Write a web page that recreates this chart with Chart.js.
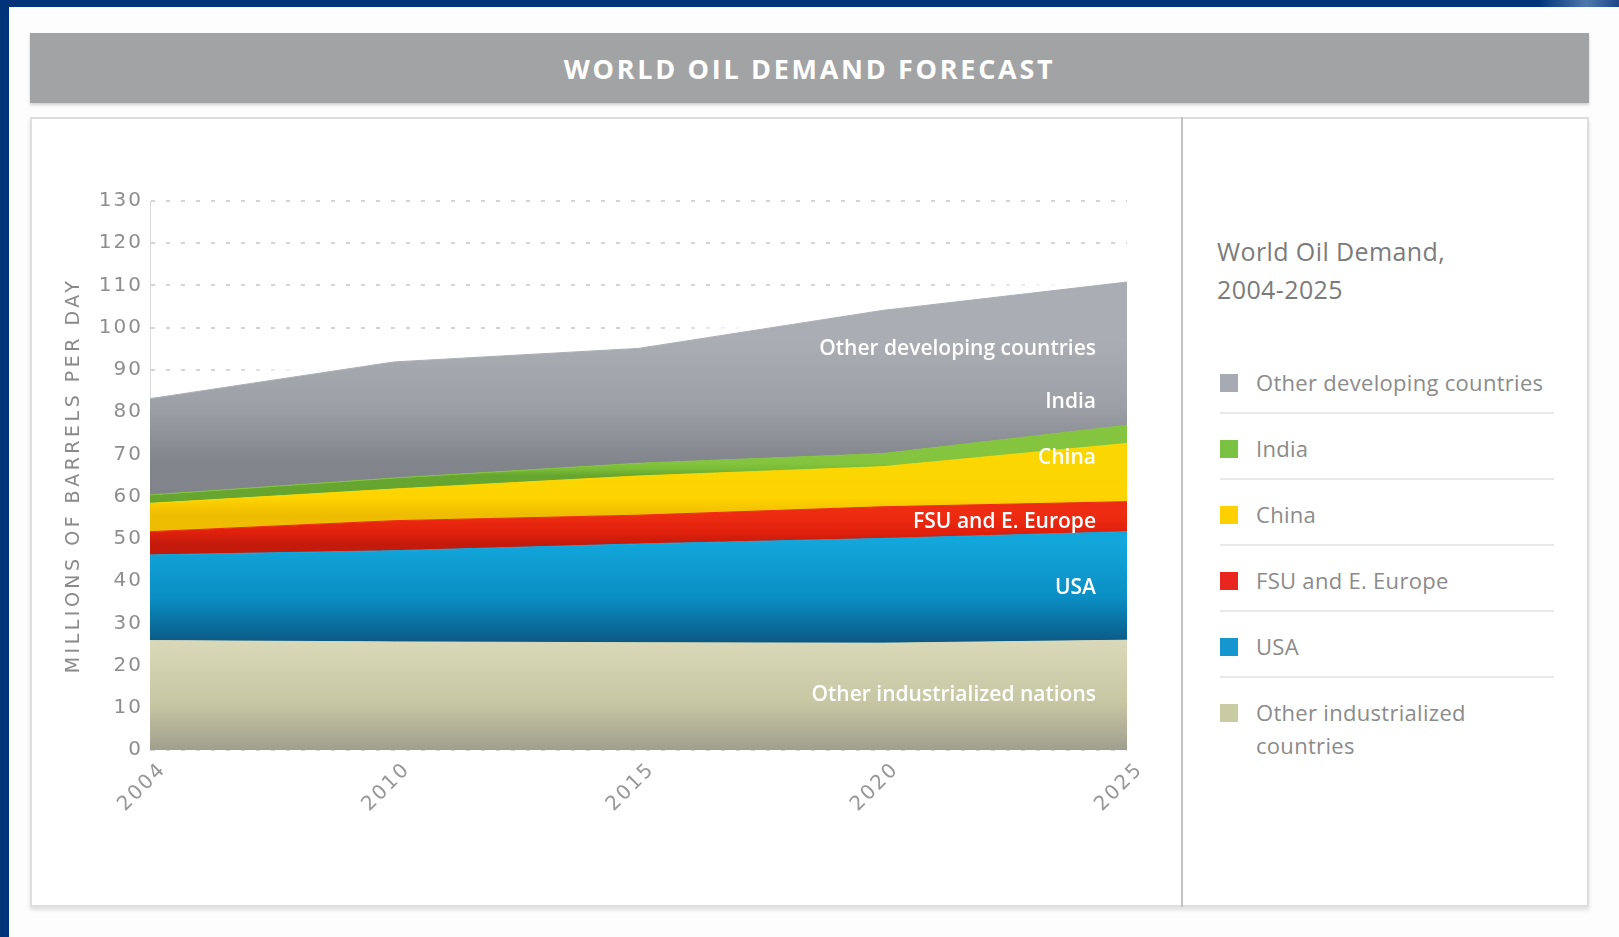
<!DOCTYPE html>
<html>
<head>
<meta charset="utf-8">
<title>World Oil Demand Forecast</title>
<script src="https://cdn.jsdelivr.net/npm/chart.js@4.4.1/dist/chart.umd.min.js"></script>
<style>
  html, body { margin: 0; padding: 0; }
  body { width: 1619px; height: 937px; position: relative; overflow: hidden; background: #fdfdfd; font-family: "Open Sans", sans-serif; }
  #frameTop { position: absolute; left: 0; top: 0; width: 1619px; height: 7px; background: linear-gradient(90deg, #003478 0%, #003478 95%, #4f78ad 98%, #1b4787 100%); }
  #frameLeft { position: absolute; left: 0; top: 0; width: 9px; height: 937px; background: #003478; }
  #titleBar { position: absolute; left: 30px; top: 33px; width: 1559px; height: 70px; background: #a2a3a5; box-shadow: 0 2px 3px rgba(0,0,0,.18);
              color: #fff; font-weight: 700; font-size: 27px; letter-spacing: 2.7px; line-height: 72px; text-align: center; }
  #panel { position: absolute; left: 30px; top: 117px; width: 1555px; height: 786px; border: 2px solid #dedede; background: #fff; box-shadow: 0 3px 4px rgba(0,0,0,.12); }
  #divider { position: absolute; left: 1181px; top: 117px; width: 2px; height: 790px; background: #c2c2c2; }
  #oilChart { position: absolute; left: 0; top: 0; }
  #legendTitle { position: absolute; left: 1217px; top: 232px; font-size: 25px; line-height: 38px; color: #7b7b7b; letter-spacing: 0.4px; }
  #legendItems { position: absolute; left: 1220px; top: 354px; width: 334px; margin: 0; padding: 0; list-style: none; }
  #legendItems li { display: flex; align-items: flex-start; height: 58px; border-bottom: 2px solid #e9e9e9; margin-bottom: 6px; }
  #legendItems li:last-child { border-bottom: none; }
  #legendItems .sw { width: 18px; height: 18px; margin-top: 20px; flex: none; }
  #legendItems .tx { margin-left: 18px; margin-top: 12px; width: 310px; font-size: 22px; line-height: 33px; color: #8b8b8b; letter-spacing: 0.3px; }
</style>
</head>
<body>
<div id="frameTop"></div>
<div id="frameLeft"></div>
<div id="titleBar">WORLD OIL DEMAND FORECAST</div>
<div id="panel"></div>
<div id="divider"></div>
<canvas id="oilChart" width="1180" height="905" style="width:1180px;height:905px"></canvas>
<div id="legendTitle">World Oil Demand,<br>2004-2025</div>
<ul id="legendItems"></ul>
<script>
const years = ['2004', '2010', '2015', '2020', '2025'];
// million barrels per day, listed from the bottom of the stack upwards
const otherIndustrialized = [25.9, 25.6, 25.4, 25.3, 26.0];
const usa = [20.3, 21.6, 23.4, 24.8, 25.7];
const fsuEurope = [5.5, 7.1, 6.8, 7.5, 7.1];
const china = [6.7, 7.5, 9.3, 9.5, 13.8];
const india = [2.0, 2.6, 3.0, 3.1, 4.3];
const otherDeveloping = [22.8, 27.5, 27.2, 33.9, 33.9];
const yMax = 130;
const yStep = 10;

// legend text, label inside the band, colours (top/mid/bottom shade), label nudge in px
const layers = [
  {legend: 'Other industrialized countries', tag: 'Other industrialized nations', data: otherIndustrialized,
   swatch: '#c9cba5', shades: ['#d9d8b8', '#c8c7a4', '#a09f8e'], nudge: 0},
  {legend: 'USA', tag: 'USA', data: usa,
   swatch: '#1696cf', shades: ['#12a6da', '#0a8ec3', '#0b5a86'], nudge: 2},
  {legend: 'FSU and E. Europe', tag: 'FSU and E. Europe', data: fsuEurope,
   swatch: '#e8261f', shades: ['#ee2c12', '#e2210d', '#c41a0c'], nudge: 5},
  {legend: 'China', tag: 'China', data: china,
   swatch: '#ffd000', shades: ['#fbd600', '#ffd400', '#eebc00'], nudge: -15},
  {legend: 'India', tag: 'India', data: india,
   swatch: '#7cc242', shades: ['#84c43e', '#78ba36', '#66a52f'], nudge: -32},
  {legend: 'Other developing countries', tag: 'Other developing countries', data: otherDeveloping,
   swatch: '#a7aab2', shades: ['#abadb4', '#9d9fa6', '#82848c'], nudge: -5}
];

function stackTo(k) {
  return years.map((_, j) => layers.slice(0, k + 1).reduce((a, l) => a + l.data[j], 0));
}
const mean = arr => arr.reduce((a, v) => a + v, 0) / arr.length;

function shade(i) {
  return (c) => {
    const chart = c.chart;
    if (!chart.chartArea) return layers[i].swatch;
    const y = chart.scales.y;
    const g = chart.ctx.createLinearGradient(0, y.getPixelForValue(mean(stackTo(i))), 0, y.getPixelForValue(mean(stackTo(i - 1))));
    const s = layers[i].shades;
    g.addColorStop(0, s[0]);
    g.addColorStop(0.55, s[1]);
    g.addColorStop(1, s[2]);
    return g;
  };
}

const decor = {
  id: 'decor',
  beforeDraw(chart) {
    chart.ctx.letterSpacing = '2px';
  },
  beforeDatasetsDraw(chart) {
    // soft white halo along the top of the stack
    const {ctx, chartArea} = chart;
    const pts = chart.getDatasetMeta(layers.length - 1).data;
    ctx.save();
    ctx.beginPath();
    ctx.rect(chartArea.left + 1, chartArea.top - 20, chartArea.width + 10, chartArea.height + 20);
    ctx.clip();
    ctx.filter = 'blur(5px)';
    ctx.strokeStyle = 'rgba(255,255,255,0.95)';
    ctx.lineWidth = 20;
    ctx.beginPath();
    pts.forEach((p, k) => k ? ctx.lineTo(p.x, p.y) : ctx.moveTo(p.x, p.y));
    ctx.stroke();
    ctx.restore();
  },
  afterDatasetsDraw(chart) {
    const {ctx, chartArea, scales: {y}} = chart;
    const last = years.length - 1;
    ctx.save();
    ctx.letterSpacing = '0px';
    ctx.font = '600 21px "Open Sans"';
    ctx.fillStyle = '#ffffff';
    ctx.textAlign = 'right';
    ctx.textBaseline = 'middle';
    let base = 0;
    layers.forEach(l => {
      const top = base + l.data[last];
      ctx.fillText(l.tag, chartArea.right - 31, y.getPixelForValue((base + top) / 2) + l.nudge);
      base = top;
    });
    ctx.restore();
  },
  afterDraw(chart) {
    const {ctx, chartArea} = chart;
    ctx.save();
    ctx.letterSpacing = '3.5px';
    ctx.font = '19px "DejaVu Sans"';
    ctx.fillStyle = '#8a8a8a';
    ctx.textAlign = 'center';
    ctx.textBaseline = 'middle';
    ctx.translate(74, (chartArea.top + chartArea.bottom) / 2);
    ctx.rotate(-Math.PI / 2);
    ctx.fillText('MILLIONS OF BARRELS PER DAY', 0, 0);
    ctx.restore();
    ctx.letterSpacing = '0px';
  }
};

const chart = new Chart(document.getElementById('oilChart'), {
  type: 'line',
  data: {
    labels: years,
    datasets: layers.map((l, i) => ({
      label: l.legend,
      data: l.data,
      fill: i === 0 ? 'origin' : '-1',
      backgroundColor: shade(i),
      borderColor: l.shades[0],
      borderWidth: 1,
      pointRadius: 0,
      tension: 0
    }))
  },
  options: {
    responsive: false,
    animation: false,
    layout: {padding: {left: 62, top: 201, right: 53, bottom: 65}},
    plugins: {legend: {display: false}, tooltip: {enabled: false}},
    scales: {
      x: {
        offset: false,
        grid: {display: false, drawTicks: false},
        border: {display: false},
        ticks: {autoSkip: false, minRotation: 45, maxRotation: 45, padding: 8, labelOffset: 13, color: '#979797', font: {family: 'DejaVu Sans', size: 20}},
        afterFit: s => { s.height = 90; }
      },
      y: {
        stacked: true,
        min: 0,
        max: yMax,
        grid: {color: '#d4d4d4', lineWidth: 2, drawTicks: false},
        border: {display: true, color: '#d9d9d9', width: 1, dash: [4, 11]},
        ticks: {stepSize: yStep, padding: 7, color: '#8e8e8e', font: {family: 'DejaVu Sans', size: 20}},
        afterFit: s => { s.width = 88; }
      }
    }
  },
  plugins: [decor]
});

// legend panel, top of the stack first
document.getElementById('legendItems').innerHTML = layers.slice().reverse().map(l =>
  `<li><span class="sw" style="background:${l.swatch}"></span><span class="tx">${l.legend}</span></li>`
).join('');
</script>
</body>
</html>
